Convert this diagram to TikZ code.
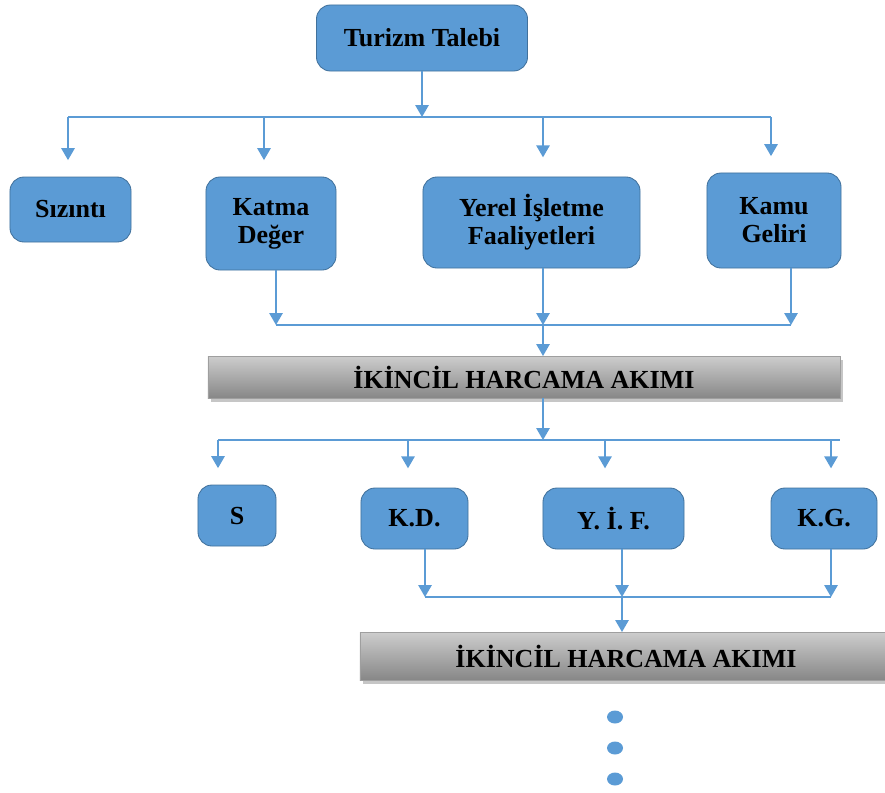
\documentclass[tikz,border=0pt]{standalone}
\usepackage{fontspec}
\setmainfont{Liberation Serif}
\usetikzlibrary{arrows.meta,positioning,shadows}
\definecolor{boxblue}{RGB}{91,155,213}
\definecolor{boxedge}{RGB}{65,113,156}
\definecolor{linkblue}{RGB}{91,155,213}
\definecolor{barlight}{RGB}{205,205,205}
\definecolor{bardark}{RGB}{135,135,135}
\tikzstyle{box} = [draw=boxedge, fill=boxblue, rounded corners=0.35cm, line width=0.6pt, align=center, inner sep=0pt, outer sep=0pt, font=\bfseries\fontsize{18.5}{20}\selectfont]
\tikzstyle{bar} = [draw=bardark!80, top color=barlight, bottom color=bardark, inner sep=0pt, outer sep=0pt, drop shadow={shadow xshift=2pt, shadow yshift=-2.5pt, opacity=0.45}, font=\bfseries\fontsize{18.5}{20}\selectfont]
\tikzstyle{wire} = [line width=1.2pt, color=linkblue]
\tikzstyle{flow} = [wire, -{Triangle[width=9.5pt,length=8.5pt]}]

\begin{document}
\begin{tikzpicture}[x=0.025cm, y=-0.025cm]
    \useasboundingbox (0,0) rectangle (885,792);

    % First level
    \node[box, minimum width=5.275cm, minimum height=1.65cm] (talebi) at (422,38) {Turizm Talebi};

    \node[box, minimum width=3.025cm, minimum height=1.625cm] (sizinti) at (70.5,209.5) {Sızıntı};
    \node[box, minimum width=3.25cm, minimum height=2.325cm] (katma) at (271,223.5) {Katma\\Değer};
    \node[box, minimum width=5.425cm, minimum height=2.275cm] (yerel) at (531.5,222.5) {Yerel İşletme\\Faaliyetleri};
    \node[box, minimum width=3.35cm, minimum height=2.375cm] (kamu) at (774,220.5) {Kamu\\Geliri};

    \node[bar, minimum width=15.8cm, minimum height=1.05cm] (akim1) at (524,377) {İKİNCİL HARCAMA AKIMI};

    % Second level
    \node[box, minimum width=1.95cm, minimum height=1.525cm] (s) at (237,515.5) {S};
    \node[box, minimum width=2.675cm, minimum height=1.525cm] (kd) at (414.5,518.5) {K.D.};
    \node[box, minimum width=3.525cm, minimum height=1.525cm] (yif) at (613.5,518.5) {Y. İ. F.};
    \node[box, minimum width=2.65cm, minimum height=1.525cm] (kg) at (824,518.5) {K.G.};

    \node[bar, minimum width=13.3cm, minimum height=1.2cm] (akim2) at (626,656) {İKİNCİL HARCAMA AKIMI};

    % Split after Turizm Talebi
    \coordinate (t1) at (422,117);
    \coordinate (t1a) at (68,117);
    \coordinate (t1b) at (264,117);
    \coordinate (t1c) at (543,117);
    \coordinate (t1d) at (771,117);
    \draw[flow] (talebi.south) -- (t1);
    \draw[wire] (t1a) -- (t1d);
    \draw[flow, shorten >=12pt] (t1a) -- (t1a |- sizinti.north);
    \draw[flow, shorten >=12pt] (t1b) -- (t1b |- katma.north);
    \draw[flow, shorten >=14pt] (t1c) -- (t1c |- yerel.north);
    \draw[flow, shorten >=12pt] (t1d) -- (t1d |- kamu.north);

    % Join into first flow
    \coordinate (j1a) at (276,325);
    \coordinate (j1b) at (543,325);
    \coordinate (j1c) at (791,325);
    \draw[wire] (j1a) -- (j1c);
    \draw[flow] (j1a |- katma.south) -- (j1a);
    \draw[flow] (j1b |- yerel.south) -- (j1b);
    \draw[flow] (j1c |- kamu.south) -- (j1c);
    \draw[flow] (j1b) -- (j1b |- akim1.north);

    % Split after first flow
    \coordinate (t2) at (543,440);
    \coordinate (t2a) at (218,440);
    \coordinate (t2b) at (408,440);
    \coordinate (t2c) at (605,440);
    \coordinate (t2d) at (831,440);
    \coordinate (t2e) at (840,440);
    \draw[flow] (t2 |- akim1.south) -- (t2);
    \draw[wire] (t2a) -- (t2e);
    \draw[flow, shorten >=12pt] (t2a) -- (t2a |- s.north);
    \draw[flow, shorten >=14pt] (t2b) -- (t2b |- kd.north);
    \draw[flow, shorten >=14pt] (t2c) -- (t2c |- yif.north);
    \draw[flow, shorten >=14pt] (t2d) -- (t2d |- kg.north);

    % Join into second flow
    \coordinate (j2a) at (425,597);
    \coordinate (j2b) at (622,597);
    \coordinate (j2c) at (831,597);
    \draw[wire] (j2a) -- (j2c);
    \draw[flow] (j2a |- kd.south) -- (j2a);
    \draw[flow] (j2b |- yif.south) -- (j2b);
    \draw[flow] (j2c |- kg.south) -- (j2c);
    \draw[flow] (j2b) -- (j2b |- akim2.north);

    % Continuation dots
    \foreach \y in {717,748,779}
        \fill[boxblue] (615,\y) ellipse (8 and 6.5);
\end{tikzpicture}
\end{document}
